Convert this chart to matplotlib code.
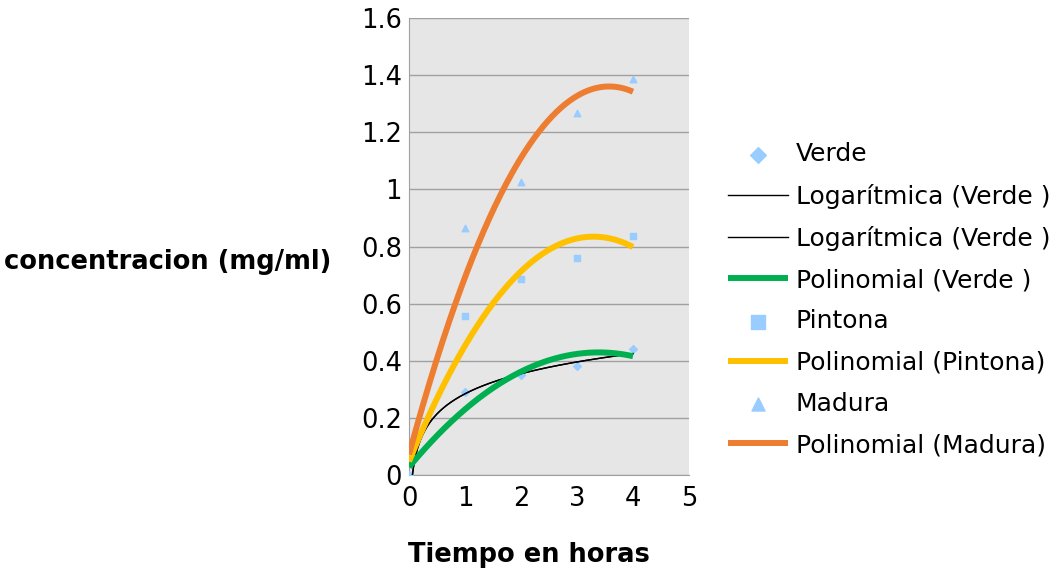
import numpy as np
import matplotlib.pyplot as plt

horas = np.array([0, 1, 2, 3, 4])
verde = np.array([0.0, 0.29, 0.35, 0.38, 0.44])
pintona = np.array([0.0, 0.557, 0.686, 0.76, 0.837])
madura = np.array([0.0, 0.865, 1.026, 1.267, 1.386])

pt_color = '#99ccff'
c_verde = '#00b050'
c_pintona = '#ffc000'
c_madura = '#ed7d31'
fs = 18.5

fig = plt.figure(figsize=(10.58, 5.71), dpi=100)
ax = fig.add_axes([0.3866, 0.1681, 0.2646, 0.8004])
ax.set_facecolor('#e6e6e6')

xs = np.linspace(0, 4, 200)
xl = np.linspace(0.06, 4, 200)

# logaritmic trend for verde (x > 0 only)
b, a = np.polyfit(np.log(horas[1:]), verde[1:], 1)
log_line = a + b*np.log(xl)

h_v = ax.scatter(horas, verde, marker='D', s=16, color=pt_color, zorder=3, label='Verde')
h_log1, = ax.plot(xl, log_line, color='black', lw=1, zorder=4, label='Logarítmica (Verde )')
h_log2, = ax.plot(xl, log_line, color='black', lw=1, zorder=4, label='Logarítmica (Verde )')
h_pv, = ax.plot(xs, np.polyval(np.polyfit(horas, verde, 2), xs), color=c_verde, lw=4.3, zorder=5,
                solid_capstyle='butt', label='Polinomial (Verde )')
h_p = ax.scatter(horas, pintona, marker='s', s=22, color=pt_color, zorder=3, label='Pintona')
h_pp, = ax.plot(xs, np.polyval(np.polyfit(horas, pintona, 2), xs), color=c_pintona, lw=4.3, zorder=5,
                solid_capstyle='butt', label='Polinomial (Pintona)')
h_m = ax.scatter(horas, madura, marker='^', s=22, color=pt_color, zorder=3, label='Madura')
h_pm, = ax.plot(xs, np.polyval(np.polyfit(horas, madura, 2), xs), color=c_madura, lw=4.3, zorder=5,
                solid_capstyle='butt', label='Polinomial (Madura)')

ax.set_xlim(0, 5)
ax.set_ylim(0, 1.6)
ax.set_xticks(range(6))
yt = np.arange(0, 1.61, 0.2)
ax.set_yticks(yt)
ax.set_yticklabels(['0', '0.2', '0.4', '0.6', '0.8', '1', '1.2', '1.4', '1.6'])
ax.tick_params(labelsize=fs, length=0)
ax.tick_params(axis='x', pad=8)
ax.tick_params(axis='y', pad=5)
ax.yaxis.grid(True, color='#a0a0a0', lw=1)
ax.set_axisbelow(True)
for side in ['top', 'right']:
    ax.spines[side].set_visible(False)
ax.spines['left'].set_color('#a0a0a0')
ax.spines['bottom'].set_color('#a0a0a0')

fig.text(529/1058, 1 - 555/571, 'Tiempo en horas', fontsize=fs, fontweight='bold', va='center', ha='center')
fig.text(0.004, 1 - 262/571, 'concentracion (mg/ml)', fontsize=fs, fontweight='bold', va='center', ha='left')

fig.legend(handles=[h_v, h_log1, h_log2, h_pv, h_p, h_pp, h_m, h_pm],
           loc='center left', bbox_to_anchor=(0.667, 0.475), frameon=False,
           fontsize=18, handlelength=2.4, handletextpad=0.3, labelspacing=0.69,
           markerscale=2.0)

fig.savefig('out.png', dpi=100)
